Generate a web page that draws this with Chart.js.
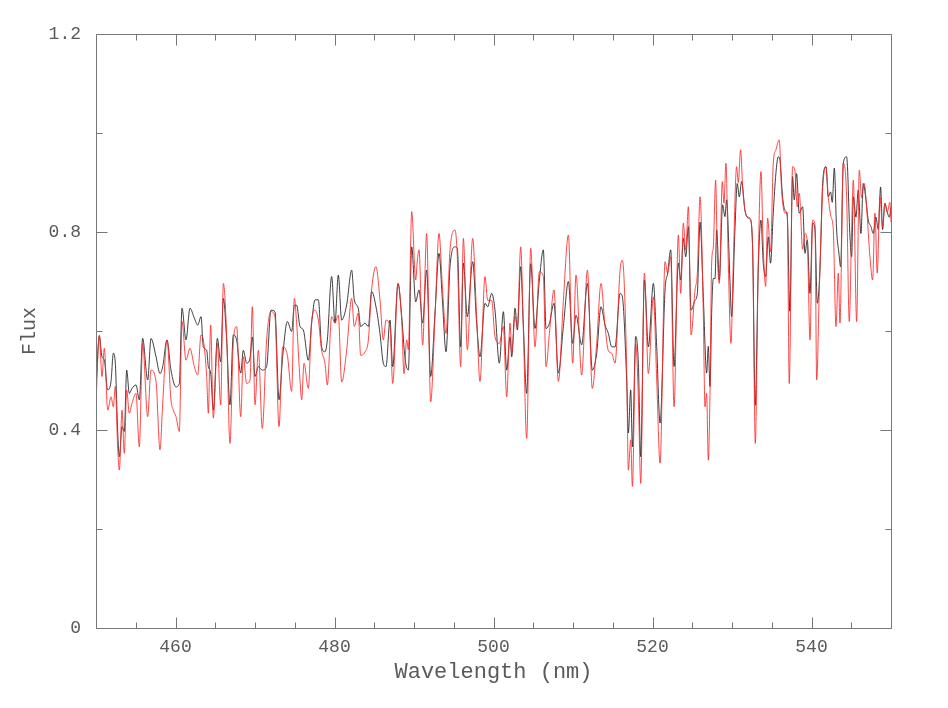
<!DOCTYPE html>
<html>
<head>
<meta charset="utf-8">
<script src="https://cdn.jsdelivr.net/npm/chart.js@4"></script>
<style>
  html, body { margin: 0; padding: 0; background: #ffffff; }
  canvas { display: block; }
</style>
</head>
<body>
<canvas id="c" width="948" height="708"></canvas>
<script>
// ---- Data (wavelength in nm, flux) ----
const blackWl = [450.00,450.42,450.75,451.05,451.47,451.89,452.18,452.43,452.72,452.94,453.27,453.56,453.86,454.19,454.53,455.03,455.45,455.87,456.50,456.92,457.55,458.05,458.39,458.93,459.43,460.06,460.48,460.82,461.32,461.82,462.37,462.79,463.21,463.50,463.92,464.13,464.42,464.76,465.26,465.68,466.02,466.43,466.85,467.27,467.69,468.20,468.53,468.95,469.37,469.66,470.00,470.42,470.92,471.46,472.01,472.51,473.02,473.48,474.07,474.61,474.95,475.24,475.66,476.08,476.71,477.13,477.55,477.97,478.38,478.80,479.10,479.64,480.06,480.48,480.90,481.53,482.16,482.49,482.99,483.29,483.84,484.26,484.67,485.22,485.72,486.14,486.48,486.98,487.32,487.99,488.45,488.87,489.29,489.71,490.21,490.63,491.09,491.59,492.10,492.64,493.15,493.57,494.03,494.53,495.16,495.45,495.87,496.21,496.71,497.38,497.88,498.30,498.93,499.27,499.77,500.19,500.73,501.24,501.66,502.08,502.29,502.71,503.00,503.42,503.76,504.17,504.68,505.22,505.77,506.27,506.61,507.03,507.61,508.16,508.79,509.42,509.96,510.38,511.09,511.81,512.43,512.98,513.52,514.03,514.45,514.87,515.29,515.92,516.21,516.75,516.96,517.26,517.47,517.89,518.22,518.52,518.98,519.48,520.11,520.53,520.95,521.58,521.91,522.29,522.71,523.25,523.55,523.88,524.18,524.51,524.85,525.35,525.64,525.98,526.39,526.81,527.02,527.23,527.44,527.65,527.86,528.07,528.40,528.82,529.11,529.32,529.74,529.95,530.37,530.66,530.92,531.21,531.63,532.05,532.26,532.59,532.93,533.30,533.64,533.93,534.23,534.56,534.85,535.19,535.52,535.82,536.03,536.36,536.66,536.95,537.28,537.62,537.83,538.12,538.46,538.89,539.18,539.47,539.81,540.14,540.44,540.73,541.06,541.40,541.82,542.11,542.40,542.61,542.87,543.16,543.45,543.66,544.00,544.42,544.84,545.05,545.26,545.59,545.88,546.22,546.51,546.85,547.14,547.48,547.77,548.10,548.40,548.69,548.94,549.23,549.53,549.78,550.00];
const blackFlux = [0.487,0.590,0.548,0.541,0.481,0.498,0.555,0.535,0.400,0.346,0.407,0.397,0.521,0.474,0.484,0.491,0.461,0.585,0.501,0.585,0.548,0.514,0.528,0.582,0.521,0.487,0.494,0.646,0.582,0.646,0.626,0.612,0.629,0.568,0.561,0.528,0.515,0.440,0.585,0.538,0.666,0.582,0.451,0.592,0.582,0.515,0.561,0.535,0.545,0.588,0.508,0.528,0.521,0.528,0.642,0.639,0.461,0.548,0.619,0.599,0.652,0.652,0.609,0.602,0.541,0.616,0.663,0.663,0.568,0.558,0.582,0.710,0.616,0.713,0.622,0.653,0.723,0.663,0.646,0.609,0.616,0.609,0.680,0.649,0.595,0.535,0.528,0.622,0.528,0.696,0.630,0.545,0.521,0.770,0.659,0.683,0.616,0.723,0.508,0.636,0.757,0.663,0.558,0.730,0.770,0.767,0.568,0.737,0.629,0.740,0.616,0.548,0.656,0.649,0.676,0.642,0.535,0.639,0.521,0.588,0.548,0.646,0.602,0.730,0.609,0.474,0.736,0.605,0.703,0.764,0.605,0.615,0.656,0.515,0.609,0.700,0.575,0.632,0.572,0.696,0.521,0.555,0.649,0.612,0.595,0.568,0.568,0.676,0.669,0.501,0.394,0.481,0.366,0.589,0.535,0.346,0.703,0.568,0.696,0.568,0.414,0.683,0.717,0.764,0.528,0.737,0.703,0.787,0.750,0.811,0.642,0.662,0.676,0.820,0.670,0.515,0.569,0.488,0.636,0.706,0.706,0.804,0.703,0.855,0.831,0.865,0.703,0.629,0.804,0.898,0.871,0.902,0.844,0.828,0.826,0.770,0.450,0.723,0.824,0.737,0.710,0.790,0.737,0.838,0.918,0.952,0.945,0.871,0.844,0.831,0.640,0.912,0.865,0.918,0.838,0.851,0.757,0.784,0.676,0.818,0.804,0.656,0.723,0.898,0.932,0.871,0.881,0.860,0.929,0.804,0.757,0.730,0.939,0.952,0.790,0.750,0.871,0.830,0.885,0.797,0.898,0.865,0.824,0.811,0.797,0.830,0.805,0.891,0.805,0.858,0.840,0.830,0.850];

const redWl = [450.00,450.42,450.75,451.05,451.47,451.89,452.18,452.43,452.72,452.94,453.27,453.56,453.86,454.19,454.53,455.03,455.45,455.87,456.50,456.92,457.55,458.05,458.39,458.93,459.43,459.73,460.06,460.48,460.82,461.32,461.82,462.37,462.79,463.21,463.50,463.92,464.13,464.42,464.76,465.26,465.68,466.02,466.43,466.85,467.27,467.69,468.20,468.53,468.95,469.37,469.66,470.00,470.42,470.92,471.46,472.01,472.51,473.02,473.48,474.07,474.61,474.95,475.24,475.66,475.87,476.16,476.71,477.13,477.55,477.97,478.38,478.80,479.10,479.64,480.06,480.48,480.90,481.53,482.16,482.49,482.99,483.29,483.84,484.26,484.67,485.22,485.72,486.14,486.48,486.98,487.32,487.99,488.45,488.74,489.08,489.29,489.71,490.21,490.42,490.63,491.09,491.59,492.10,492.64,493.15,493.57,494.03,494.53,495.16,495.45,495.87,496.21,496.71,497.38,497.88,498.30,498.93,499.27,499.77,500.19,500.73,501.24,501.66,502.08,502.29,502.71,503.00,503.42,503.76,504.17,504.68,505.22,505.77,506.27,506.61,507.03,507.61,508.16,508.79,509.42,509.96,510.38,511.09,511.81,512.43,512.98,513.52,514.03,514.45,514.87,515.29,515.92,516.21,516.75,516.96,517.26,517.47,517.89,518.22,518.52,518.98,519.48,520.11,520.53,520.95,521.58,521.91,522.29,522.71,523.25,523.55,523.88,524.18,524.51,524.85,525.35,525.64,525.98,526.39,526.60,526.81,527.02,527.23,527.44,527.65,527.94,528.15,528.40,528.78,528.99,529.24,529.53,529.87,530.16,530.58,530.79,531.08,531.34,531.63,532.05,532.26,532.59,532.93,533.30,533.64,533.93,534.23,534.48,534.85,535.19,535.52,535.94,536.24,536.66,536.95,537.20,537.62,537.91,538.21,538.46,538.89,539.18,539.47,539.81,540.14,540.44,540.65,540.98,541.27,541.48,541.82,542.11,542.45,542.74,543.08,543.37,543.58,544.00,544.42,544.75,545.05,545.26,545.68,546.01,546.30,546.64,546.93,547.35,547.69,547.98,548.27,548.61,548.94,549.23,549.53,549.86,550.00];
const redFlux = [0.454,0.592,0.508,0.565,0.440,0.467,0.447,0.488,0.366,0.319,0.440,0.353,0.481,0.434,0.454,0.474,0.366,0.575,0.427,0.521,0.498,0.360,0.454,0.582,0.461,0.440,0.427,0.397,0.619,0.541,0.565,0.528,0.511,0.592,0.582,0.508,0.434,0.612,0.424,0.575,0.451,0.696,0.595,0.373,0.575,0.609,0.427,0.548,0.494,0.501,0.649,0.451,0.561,0.403,0.582,0.639,0.629,0.407,0.568,0.551,0.478,0.666,0.615,0.501,0.461,0.535,0.484,0.622,0.642,0.622,0.561,0.535,0.491,0.629,0.616,0.632,0.497,0.561,0.666,0.609,0.636,0.551,0.558,0.582,0.683,0.730,0.663,0.582,0.622,0.609,0.494,0.696,0.622,0.514,0.582,0.562,0.841,0.703,0.743,0.764,0.572,0.797,0.457,0.629,0.797,0.690,0.595,0.764,0.804,0.750,0.528,0.787,0.562,0.787,0.629,0.498,0.710,0.662,0.662,0.588,0.575,0.609,0.467,0.616,0.555,0.629,0.609,0.770,0.602,0.383,0.767,0.568,0.720,0.710,0.528,0.595,0.683,0.498,0.662,0.794,0.535,0.713,0.511,0.723,0.484,0.575,0.696,0.609,0.560,0.555,0.535,0.723,0.743,0.528,0.319,0.380,0.286,0.575,0.467,0.292,0.717,0.514,0.669,0.501,0.333,0.740,0.717,0.750,0.447,0.794,0.676,0.818,0.764,0.851,0.592,0.683,0.717,0.871,0.636,0.447,0.474,0.339,0.470,0.737,0.770,0.905,0.760,0.696,0.902,0.858,0.939,0.740,0.575,0.737,0.932,0.900,0.966,0.891,0.844,0.830,0.828,0.770,0.373,0.737,0.922,0.770,0.690,0.828,0.760,0.939,0.966,0.986,0.885,0.838,0.840,0.494,0.932,0.925,0.851,0.878,0.765,0.797,0.780,0.582,0.824,0.815,0.501,0.681,0.830,0.905,0.932,0.870,0.831,0.805,0.609,0.717,0.616,0.939,0.870,0.619,0.805,0.905,0.619,0.925,0.870,0.898,0.850,0.750,0.703,0.838,0.717,0.871,0.810,0.858,0.840,0.860,0.820];

const xTickLabels = [460, 480, 500, 520, 540];
const xMinorTicks = [455, 460, 465, 470, 475, 480, 485, 490, 495, 500, 505, 510, 515, 520, 525, 530, 535, 540, 545];
const yTickLabels = [0, 0.4, 0.8, 1.2];
const yMinorTicks = [0.2, 0.6, 1.0];
const xTitle = 'Wavelength (nm)';
const yTitle = 'Flux';

// ---- Chart ----
const toPoints = (xs, ys) => xs.map((x, i) => ({ x: x, y: ys[i] }));
const textColor = '#5a5a5a';
const frameColor = '#777777';
const monoFont = '"Liberation Mono", "DejaVu Sans Mono", monospace';

const framePlugin = {
  id: 'frame',
  afterDraw(chart) {
    const { ctx, chartArea: a, scales } = chart;
    const xs = scales.x, ys = scales.y;
    ctx.save();
    ctx.strokeStyle = frameColor;
    ctx.lineWidth = 1;
    const L = Math.round(a.left) + 0.5, R = Math.round(a.right) + 0.5;
    const T = Math.round(a.top) + 0.5, B = Math.round(a.bottom) + 0.5;
    ctx.beginPath();
    ctx.rect(L, T, R - L, B - T);
    // x ticks (bottom & top, inward)
    xMinorTicks.forEach(v => {
      const len = xTickLabels.includes(v) ? 11 : 6;
      const px = Math.round(xs.getPixelForValue(v)) + 0.5;
      ctx.moveTo(px, B); ctx.lineTo(px, B - len);
      ctx.moveTo(px, T); ctx.lineTo(px, T + len);
    });
    // y ticks (left & right, inward)
    yTickLabels.concat(yMinorTicks).forEach(v => {
      const len = yTickLabels.includes(v) ? 11 : 6;
      const py = Math.round(ys.getPixelForValue(v)) + 0.5;
      ctx.moveTo(L, py); ctx.lineTo(L + len, py);
      ctx.moveTo(R, py); ctx.lineTo(R - len, py);
    });
    ctx.stroke();
    ctx.restore();
  }
};

new Chart(document.getElementById('c'), {
  type: 'line',
  data: {
    datasets: [
      {
        label: 'red',
        data: toPoints(redWl, redFlux),
        borderColor: 'rgba(255,40,40,0.85)',
        borderWidth: 1,
        pointRadius: 0,
        cubicInterpolationMode: 'monotone',
        fill: false
      },
      {
        label: 'black',
        data: toPoints(blackWl, blackFlux),
        borderColor: 'rgba(30,30,30,0.85)',
        borderWidth: 1,
        pointRadius: 0,
        cubicInterpolationMode: 'monotone',
        fill: false
      }
    ]
  },
  options: {
    responsive: false,
    devicePixelRatio: 1,
    animation: false,
    layout: { padding: { left: 0, right: 57, top: 34, bottom: 0 } },
    plugins: { legend: { display: false }, tooltip: { enabled: false } },
    scales: {
      x: {
        type: 'linear',
        min: 450,
        max: 550,
        afterBuildTicks: s => { s.ticks = xTickLabels.map(v => ({ value: v })); },
        afterFit: s => { s.height = 80; },
        grid: { display: false, drawTicks: false },
        border: { display: false },
        ticks: { color: textColor, padding: 8, maxRotation: 0, font: { family: monoFont, size: 18 } },
        title: { display: true, text: xTitle, color: textColor, font: { family: monoFont, size: 22 }, padding: { top: 0, bottom: 23 } }
      },
      y: {
        type: 'linear',
        min: 0,
        max: 1.2,
        afterBuildTicks: s => { s.ticks = yTickLabels.map(v => ({ value: v })); },
        afterFit: s => { s.width = 96; },
        grid: { display: false, drawTicks: false },
        border: { display: false },
        ticks: { color: textColor, padding: 15, font: { family: monoFont, size: 18 } },
        title: { display: true, text: yTitle, color: textColor, font: { family: monoFont, size: 20 }, padding: { top: 18, bottom: 0 } }
      }
    }
  },
  plugins: [framePlugin]
});
</script>
</body>
</html>
